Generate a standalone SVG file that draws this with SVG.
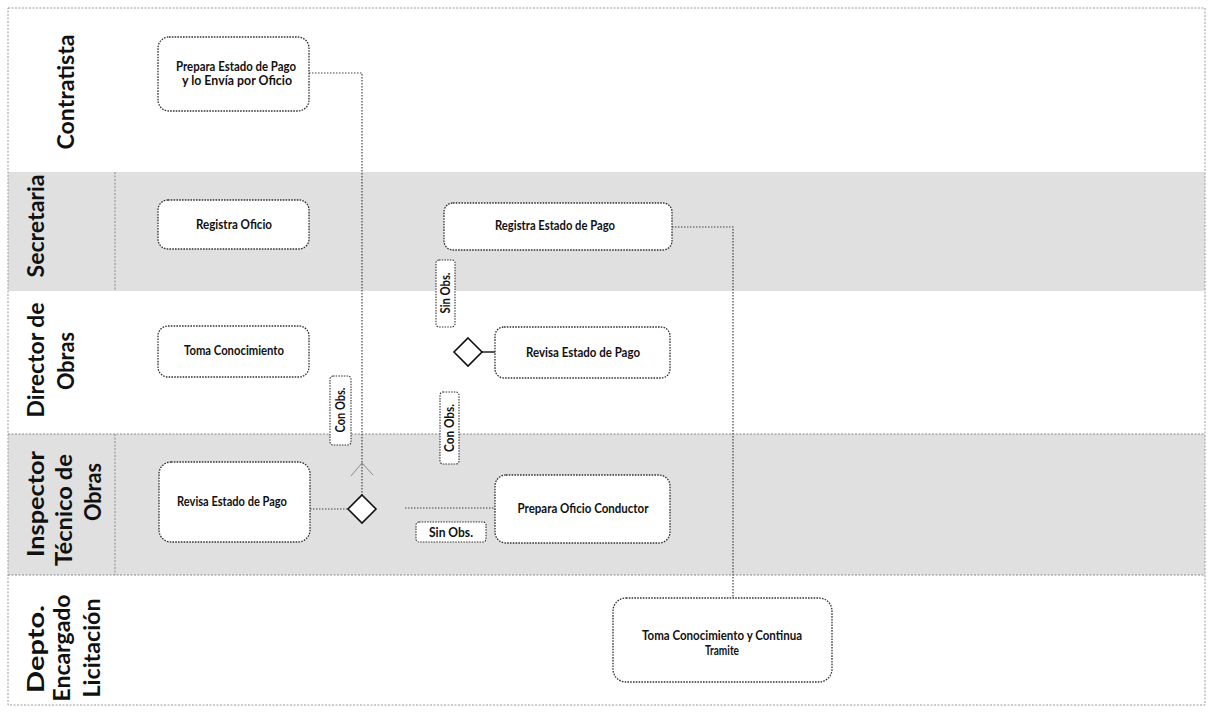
<svg xmlns="http://www.w3.org/2000/svg" width="1219" height="720" viewBox="0 0 1219 720">
  <style>
    .lane-gray { fill: #e0e0e0; }
    .lane-white { fill: #ffffff; }
    .border { fill: none; stroke: #9a9a9a; stroke-width: 1; stroke-dasharray: 2 1.5; }
    .sep { stroke: #8a8a8a; stroke-width: 1; stroke-dasharray: 2 1.5; fill: none; }
    .lane-label { font-family: Lato, "Open Sans", "Liberation Sans", sans-serif; font-weight: 700; font-size: 23px; fill: #111; text-anchor: middle; }
    .node rect { fill: #fff; stroke: #333; stroke-width: 1.3; stroke-dasharray: 1.6 1.2; }
    .node text, .tag text { font-family: Lato, "Open Sans", "Liberation Sans", sans-serif; font-weight: 700; font-size: 13px; fill: #111; text-anchor: middle; }
    .tag rect { fill: #fff; stroke: #333; stroke-width: 1.1; stroke-dasharray: 1.5 1.2; }
    .gw polygon { fill: #fff; stroke: #111; stroke-width: 1.6; }
    .flow { fill: none; stroke: #444; stroke-width: 1.2; stroke-dasharray: 1.5 1.5; }
    .solid { fill: none; stroke: #111; stroke-width: 1.4; }
    .faint { fill: none; stroke: #8a8a8a; stroke-width: 1; }
  </style>

  <rect x="0" y="0" width="1219" height="720" fill="#ffffff"/>

  <!-- lanes -->
  <g id="lanes">
    <rect class="lane-white" x="8" y="8" width="1197" height="164"/>
    <rect class="lane-gray" x="8" y="172" width="1197" height="119"/>
    <rect class="lane-white" x="8" y="291" width="1197" height="143"/>
    <rect class="lane-gray" x="8" y="434" width="1197" height="141"/>
    <rect class="lane-white" x="8" y="575" width="1197" height="130"/>
    <rect class="border" x="8" y="8" width="1197" height="697"/>
    <line class="sep" x1="8" y1="434" x2="1205" y2="434"/>
    <line class="sep" x1="8" y1="575" x2="1205" y2="575"/>
    <line class="sep" x1="115" y1="172" x2="115" y2="291"/>
    <line class="sep" x1="115" y1="434" x2="115" y2="575"/>

    <text class="lane-label" transform="translate(74,92) rotate(-90)" textLength="115" lengthAdjust="spacingAndGlyphs">Contratista</text>
    <text class="lane-label" transform="translate(44,226) rotate(-90)" textLength="103" lengthAdjust="spacingAndGlyphs">Secretaria</text>
    <text class="lane-label" transform="translate(44,360) rotate(-90)" textLength="115" lengthAdjust="spacingAndGlyphs">Director de</text>
    <text class="lane-label" transform="translate(74,361) rotate(-90)" textLength="58" lengthAdjust="spacingAndGlyphs">Obras</text>
    <text class="lane-label" transform="translate(44,504) rotate(-90)" textLength="106" lengthAdjust="spacingAndGlyphs">Inspector</text>
    <text class="lane-label" transform="translate(72,510) rotate(-90)" textLength="112" lengthAdjust="spacingAndGlyphs">Técnico de</text>
    <text class="lane-label" transform="translate(101,492) rotate(-90)" textLength="58" lengthAdjust="spacingAndGlyphs">Obras</text>
    <text class="lane-label" transform="translate(44,649) rotate(-90)" textLength="88" lengthAdjust="spacingAndGlyphs">Depto.</text>
    <text class="lane-label" transform="translate(70,648) rotate(-90)" textLength="107" lengthAdjust="spacingAndGlyphs">Encargado</text>
    <text class="lane-label" transform="translate(100,648) rotate(-90)" textLength="99" lengthAdjust="spacingAndGlyphs">Licitación</text>
  </g>

  <!-- connectors -->
  <g id="connectors">
    <polyline class="flow" points="309,73 362,73 362,495"/>
    <line class="flow" x1="310" y1="509" x2="348" y2="509"/>
    <line class="flow" x1="405" y1="508" x2="495" y2="508"/>
    <line class="solid" x1="482" y1="352" x2="495" y2="352"/>
    <polyline class="flow" points="672,227 733,227 733,598"/>
    <polyline class="faint" points="351,476 362,463 373,475"/>
  </g>

  <!-- nodes -->
  <g id="n-prepara-estado" class="node">
    <rect x="158" y="37" width="151" height="74" rx="11"/>
    <text x="236" y="71" textLength="120" lengthAdjust="spacingAndGlyphs">Prepara Estado de Pago</text>
    <text x="237" y="85" textLength="110" lengthAdjust="spacingAndGlyphs">y lo Envía por Oficio</text>
  </g>
  <g id="n-registra-oficio" class="node">
    <rect x="158" y="200" width="151" height="49" rx="10"/>
    <text x="234" y="229" textLength="76" lengthAdjust="spacingAndGlyphs">Registra Oficio</text>
  </g>
  <g id="n-toma-conocimiento" class="node">
    <rect x="158" y="326" width="151" height="51" rx="10"/>
    <text x="234" y="355" textLength="100" lengthAdjust="spacingAndGlyphs">Toma Conocimiento</text>
  </g>
  <g id="n-revisa-ito" class="node">
    <rect x="159" y="462" width="151" height="80" rx="12"/>
    <text x="232" y="506" textLength="110" lengthAdjust="spacingAndGlyphs">Revisa Estado de Pago</text>
  </g>
  <g id="g-ito" class="gw">
    <polygon points="362,495 376,509 362,523 348,509"/>
  </g>
  <g id="n-registra-estado" class="node">
    <rect x="444" y="203" width="228" height="47" rx="9"/>
    <text x="555" y="230" textLength="120" lengthAdjust="spacingAndGlyphs">Registra Estado de Pago</text>
  </g>
  <g id="g-director" class="gw">
    <polygon points="468,338 482,352 468,366 454,352"/>
  </g>
  <g id="n-revisa-director" class="node">
    <rect x="495" y="327" width="175" height="51" rx="9"/>
    <text x="583" y="357" textLength="114" lengthAdjust="spacingAndGlyphs">Revisa Estado de Pago</text>
  </g>
  <g id="n-prepara-oficio" class="node">
    <rect x="495" y="475" width="175" height="68" rx="11"/>
    <text x="583" y="513" textLength="131" lengthAdjust="spacingAndGlyphs">Prepara Oficio Conductor</text>
  </g>
  <g id="n-toma-continua" class="node">
    <rect x="613" y="598" width="219" height="84" rx="13"/>
    <text x="722" y="640" textLength="160" lengthAdjust="spacingAndGlyphs">Toma Conocimiento y Continua</text>
    <text x="722" y="655" textLength="34" lengthAdjust="spacingAndGlyphs">Tramite</text>
  </g>

  <!-- connector labels -->
  <g id="l-sin-obs-v" class="tag">
    <rect x="436" y="260" width="19" height="67" rx="3"/>
    <text transform="translate(450,293) rotate(-90)" textLength="41" lengthAdjust="spacingAndGlyphs">Sin Obs.</text>
  </g>
  <g id="l-con-obs-1" class="tag">
    <rect x="330" y="376" width="21" height="69" rx="3"/>
    <text transform="translate(345,410) rotate(-90)" textLength="45" lengthAdjust="spacingAndGlyphs">Con Obs.</text>
  </g>
  <g id="l-con-obs-2" class="tag">
    <rect x="440" y="392" width="19" height="72" rx="3"/>
    <text transform="translate(454,428) rotate(-90)" textLength="48" lengthAdjust="spacingAndGlyphs">Con Obs.</text>
  </g>
  <g id="l-sin-obs-h" class="tag">
    <rect x="416" y="522" width="70" height="20" rx="3"/>
    <text x="451" y="537" textLength="44" lengthAdjust="spacingAndGlyphs">Sin Obs.</text>
  </g>
</svg>
